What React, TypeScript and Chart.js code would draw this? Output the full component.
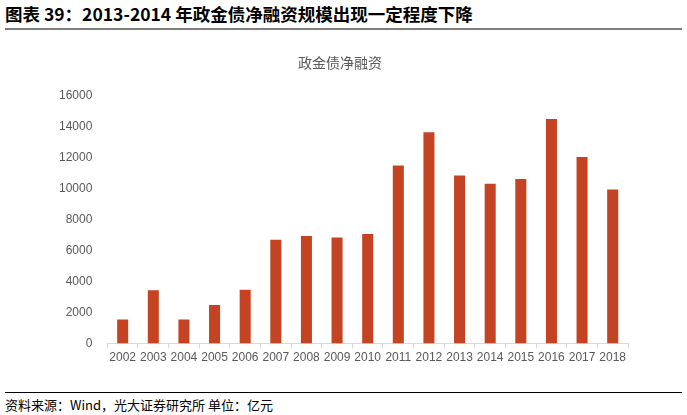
import { useEffect, useRef } from 'react'
import { Chart, registerables } from 'chart.js'

Chart.register(...registerables)

const years = [
  '2002', '2003', '2004', '2005', '2006', '2007', '2008', '2009', '2010',
  '2011', '2012', '2013', '2014', '2015', '2016', '2017', '2018',
]
const netFinancing = [
  1550, 3450, 1550, 2500, 3480, 6700, 6950, 6850, 7080,
  11500, 13650, 10850, 10320, 10630, 14500, 12050, 9950,
]
const yTicks = [0, 2000, 4000, 6000, 8000, 10000, 12000, 14000, 16000]

const latin = '"Liberation Sans", Arial, sans-serif'
const cjk = '"Noto Sans CJK SC", "Noto Sans", sans-serif'

export default function App() {
  const canvasRef = useRef<HTMLCanvasElement>(null)

  useEffect(() => {
    document.body.style.margin = '0'
    if (!canvasRef.current) return
    const chart = new Chart(canvasRef.current, {
      type: 'bar',
      data: {
        labels: years,
        datasets: [
          {
            label: '政金债净融资',
            data: netFinancing,
            backgroundColor: '#C44322',
            barPercentage: 0.36,
            categoryPercentage: 1,
          },
        ],
      },
      options: {
        animation: false,
        responsive: false,
        layout: { padding: { left: 52, right: 59, top: 0, bottom: 0 } },
        plugins: {
          legend: { display: false },
          tooltip: { enabled: false },
          title: {
            display: true,
            text: '政金债净融资',
            color: '#595959',
            font: { family: cjk, size: 14, weight: 'normal' },
            padding: { top: 11, bottom: 25 },
          },
        },
        scales: {
          x: {
            grid: {
              offset: true,
              drawOnChartArea: false,
              drawTicks: true,
              tickLength: 5,
              color: '#d9d9d9',
            },
            border: { display: true, color: '#d9d9d9' },
            ticks: {
              color: '#595959',
              font: { family: latin, size: 12 },
              maxRotation: 0,
              autoSkip: false,
              padding: 2,
            },
          },
          y: {
            min: 0,
            max: 16000,
            afterBuildTicks: (axis) => {
              axis.ticks = yTicks.map((v) => ({ value: v }))
            },
            grid: { display: false },
            border: { display: false },
            ticks: {
              color: '#595959',
              font: { family: latin, size: 12 },
              padding: 7,
              callback: (v) => String(v),
            },
          },
        },
      },
    })
    return () => chart.destroy()
  }, [])

  return (
    <div style={{ position: 'relative', width: 687, height: 415, background: '#fff' }}>
      <div
        style={{
          position: 'absolute',
          left: 5,
          top: 3,
          fontFamily: cjk,
          fontWeight: 'bold',
          fontSize: 17.5,
          color: '#000',
          lineHeight: '22px',
          whiteSpace: 'nowrap',
        }}
      >
        图表 39：2013-2014 年政金债净融资规模出现一定程度下降
      </div>
      <div
        style={{
          position: 'absolute',
          left: 5,
          top: 28,
          width: 677,
          height: 2,
          background: '#7f7f7f',
        }}
      />
      <canvas
        ref={canvasRef}
        width={687}
        height={324}
        style={{ position: 'absolute', left: 0, top: 43 }}
      />
      <div
        style={{
          position: 'absolute',
          left: 5,
          top: 392,
          width: 677,
          height: 1,
          background: '#000',
        }}
      />
      <div
        style={{
          position: 'absolute',
          left: 5,
          top: 396,
          fontFamily: cjk,
          fontSize: 13,
          color: '#000',
          lineHeight: '18px',
          whiteSpace: 'nowrap',
        }}
      >
        资料来源：Wind，光大证券研究所 单位：亿元
      </div>
    </div>
  )
}
